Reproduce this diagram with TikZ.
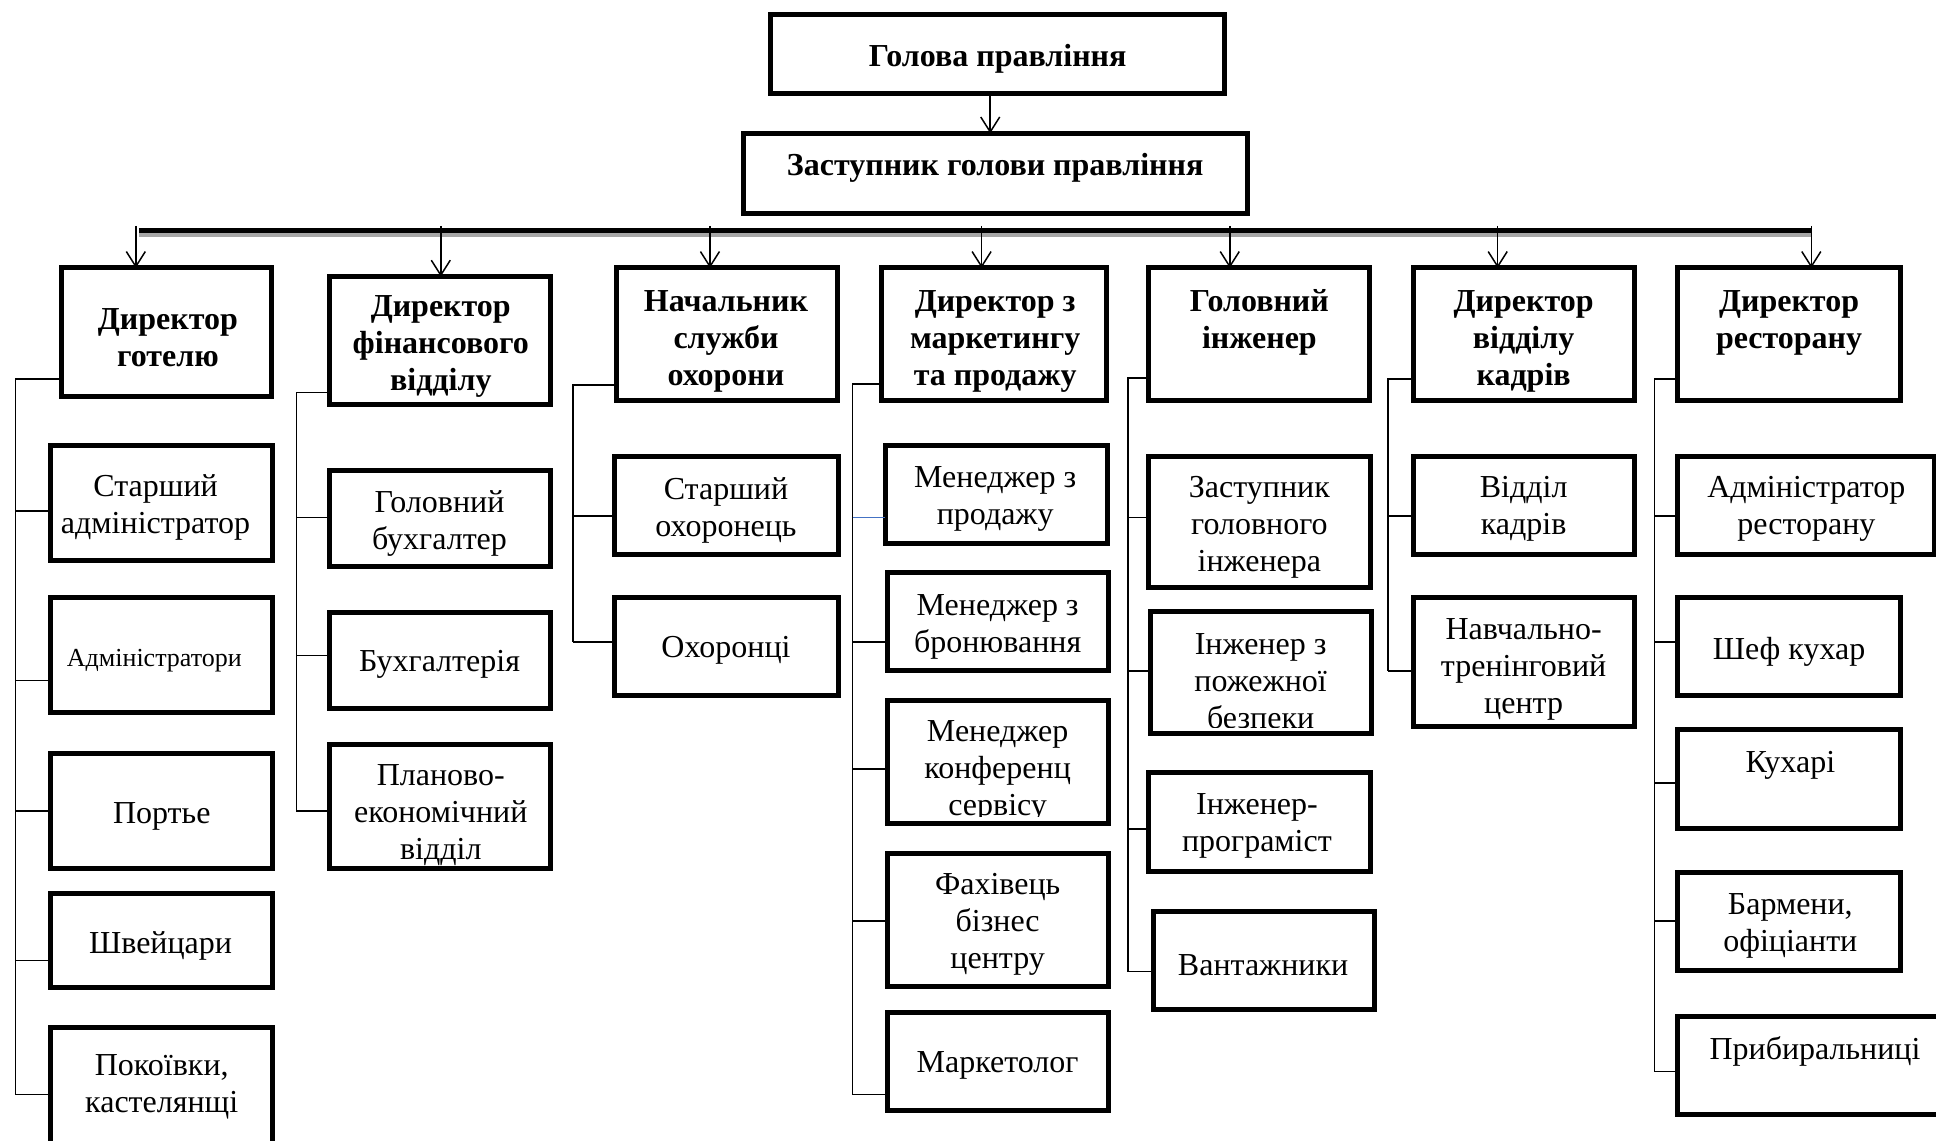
\documentclass[tikz,border=0pt]{standalone}
\usepackage{fontspec}
\setmainfont{Liberation Serif}
\usetikzlibrary{arrows.meta,fit}
\definecolor{tickblue}{RGB}{68,114,196}
\newcommand\bx[5]{\node[box, fit={(#2+2,#3+2) (#4-2,#5-2)}] (#1) {};}
\begin{document}
\begin{tikzpicture}[x=1.2347pt,y=-1.2347pt,
 box/.style={draw, line width=5pt, inner sep=0pt, outer sep=0pt},
 bt/.style={font=\bfseries\fontsize{32}{37}\selectfont, align=center, inner sep=0pt, yshift=-3.5pt},
 nt/.style={font=\fontsize{32}{37}\selectfont, align=center, inner sep=0pt, yshift=-3.5pt},
 st/.style={font=\fontsize{26}{31}\selectfont, align=center, inner sep=0pt, yshift=-3.5pt},
 conn/.style={line width=1.5pt},
 arr/.style={line width=1.5pt, -{Straight Barb[length=15pt,width=19pt,line width=1.5pt]}},
]
\useasboundingbox (0,0) rectangle (1568,924);
% boxes
\bx{top}{622}{10}{994}{78}
\bx{dep}{600}{106}{1012}{175}
\bx{d1}{48}{215}{222}{323}
\bx{d2}{265}{222}{448}{330}
\bx{d3}{497}{215}{680}{326}
\bx{d4}{712}{215}{898}{326}
\bx{d5}{928}{215}{1111}{326}
\bx{d6}{1143}{215}{1326}{326}
\bx{d7}{1357}{215}{1541}{326}
\bx{c11}{39}{359}{223}{456}
\bx{c12}{39}{482}{223}{579}
\bx{c13}{39}{608}{223}{705}
\bx{c14}{39}{722}{223}{802}
\bx{c15}{39}{830}{223}{940}
\bx{c21}{265}{379}{448}{461}
\bx{c22}{265}{494}{448}{576}
\bx{c23}{265}{601}{448}{705}
\bx{c31}{496}{368}{681}{451}
\bx{c32}{496}{482}{681}{565}
\bx{c41}{715}{359}{899}{442}
\bx{c42}{717}{462}{900}{545}
\bx{c43}{717}{565}{900}{669}
\bx{c44}{717}{689}{900}{801}
\bx{c45}{717}{818}{900}{901}
\bx{c51}{928}{368}{1112}{478}
\bx{c52}{930}{493}{1113}{596}
\bx{c53}{928}{624}{1112}{708}
\bx{c54}{932}{736}{1115}{820}
\bx{c61}{1143}{368}{1326}{451}
\bx{c62}{1143}{482}{1326}{590}
\bx{c71}{1357}{368}{1569}{451}
\bx{c72}{1357}{482}{1541}{565}
\bx{c73}{1357}{589}{1541}{673}
\bx{c74}{1357}{705}{1541}{788}
\bx{c75}{1357}{821}{1580}{905}
% texts
\node[bt] (ttop) at (808,45) {Голова правління};
\node[bt] (tdep) at (806,133) {Заступник голови правління};
\node[bt] (td1) at (136,271) {Директор\\готелю};
\node[bt] (td2) at (357,278) {Директор\\фінансового\\відділу};
\node[bt] (td3) at (588,274) {Начальник\\служби\\охорони};
\node[bt] (td4) at (806,274) {Директор з\\маркетингу\\та продажу};
\node[bt] (td5) at (1020,258.5) {Головний\\інженер};
\node[bt] (td6) at (1234,274) {Директор\\відділу\\кадрів};
\node[bt] (td7) at (1449,258.5) {Директор\\ресторану};
\node[nt] (tc11) at (126,408.5) {Старший\\адміністратор};
\node[st] (tc12) at (125,532) {Адміністратори};
\node[nt] (tc13) at (131,658) {Портье};
\node[nt] (tc14) at (130,763) {Швейцари};
\node[nt] (tc15) at (131,877.5) {Покоївки,\\кастелянщі};
\node[nt] (tc21) at (356,421) {Головний\\бухгалтер};
\node[nt] (tc22) at (356,535) {Бухгалтерія};
\node[nt] (tc23) at (357,657) {Планово-\\економічний\\відділ};
\node[nt] (tc31) at (588,410.5) {Старший\\охоронець};
\node[nt] (tc32) at (588,524) {Охоронці};
\node[nt] (tc41) at (806,401) {Менеджер з\\продажу};
\node[nt] (tc42) at (808,505) {Менеджер з\\бронювання};
\begin{scope}
\clip (717,565) rectangle (900,661);
\node[nt] (tc43) at (808,622) {Менеджер\\конференц\\сервісу};
\end{scope}
\node[nt] (tc44) at (808,746) {Фахівець\\бізнес\\центру};
\node[nt] (tc45) at (808,860) {Маркетолог};
\node[nt] (tc51) at (1020,424) {Заступник\\головного\\інженера};
\begin{scope}
\clip (930,493) rectangle (1113,589);
\node[nt] (tc52) at (1021,549) {Інженер з\\пожежної\\безпеки};
\end{scope}
\node[nt] (tc53) at (1018,666) {Інженер-\\програміст};
\node[nt] (tc54) at (1023,779) {Вантажники};
\node[nt] (tc61) at (1234,409.5) {Відділ\\кадрів};
\begin{scope}
\clip (1143,482) rectangle (1326,583);
\node[nt] (tc62) at (1234,539) {Навчально-\\тренінговий\\центр};
\end{scope}
\node[nt] (tc71) at (1463,409.5) {Адміністратор\\ресторану};
\node[nt] (tc72) at (1449,525) {Шеф кухар};
\node[nt] (tc73) at (1450,617) {Кухарі};
\node[nt] (tc74) at (1450,747) {Бармени,\\офіціанти};
\node[nt] (tc75) at (1470,849) {Прибиральниці};
% bar
\coordinate (barL) at (112.5,186.7);
\coordinate (barR) at (1466.5,186.7);
\draw[line width=4pt, black!35] ([yshift=-4.6pt]barL) -- ([yshift=-4.6pt]barR);
\draw[line width=5pt] (barL) -- (barR);
% arrows
\coordinate (a0) at (802,78);
\draw[arr] (a0 |- top.south) -- (a0 |- dep.north);
\foreach \i/\xx in {1/110,2/357,3/575,4/795,5/996,6/1213,7/1467}{
  \coordinate (ax\i) at (\xx,183);
  \draw[arr] (ax\i) -- (ax\i |- d\i.north);
}
% spines
\coordinate (s1) at (12.6,307);
\draw[conn] (d1.west |- s1) -- (s1) -- (s1 |- 0,886.5);
\foreach \n/\yy in {c11/414,c12/551,c13/657,c14/778,c15/886.5}
  \draw[conn] (s1 |- 0,\yy) -- (\n.west |- 0,\yy);
\coordinate (s2) at (240,318);
\draw[conn] (d2.west |- s2) -- (s2) -- (s2 |- 0,657);
\foreach \n/\yy in {c21/419,c22/531,c23/657}
  \draw[conn] (s2 |- 0,\yy) -- (\n.west |- 0,\yy);
\coordinate (s3) at (464,312);
\draw[conn] (d3.west |- s3) -- (s3) -- (s3 |- 0,520);
\foreach \n/\yy in {c31/418,c32/520}
  \draw[conn] (s3 |- 0,\yy) -- (\n.west |- 0,\yy);
\coordinate (s4) at (690.5,311);
\draw[conn] (d4.west |- s4) -- (s4) -- (s4 |- 0,886.5);
\draw[conn, tickblue] (s4 |- 0,419) -- (c41.west |- 0,419);
\foreach \n/\yy in {c42/520,c43/623,c44/746,c45/886.5}
  \draw[conn] (s4 |- 0,\yy) -- (\n.west |- 0,\yy);
\coordinate (s5) at (913.5,306);
\draw[conn] (d5.west |- s5) -- (s5) -- (s5 |- 0,787);
\foreach \n/\yy in {c51/419,c52/543.6,c53/671.5,c54/787}
  \draw[conn] (s5 |- 0,\yy) -- (\n.west |- 0,\yy);
\coordinate (s6) at (1124,307);
\draw[conn] (d6.west |- s6) -- (s6) -- (s6 |- 0,543.5);
\foreach \n/\yy in {c61/418,c62/543.5}
  \draw[conn] (s6 |- 0,\yy) -- (\n.west |- 0,\yy);
\coordinate (s7) at (1340,307);
\draw[conn] (d7.west |- s7) -- (s7) -- (s7 |- 0,868);
\foreach \n/\yy in {c71/418,c72/520,c73/634,c74/746,c75/868}
  \draw[conn] (s7 |- 0,\yy) -- (\n.west |- 0,\yy);
\end{tikzpicture}
\end{document}
